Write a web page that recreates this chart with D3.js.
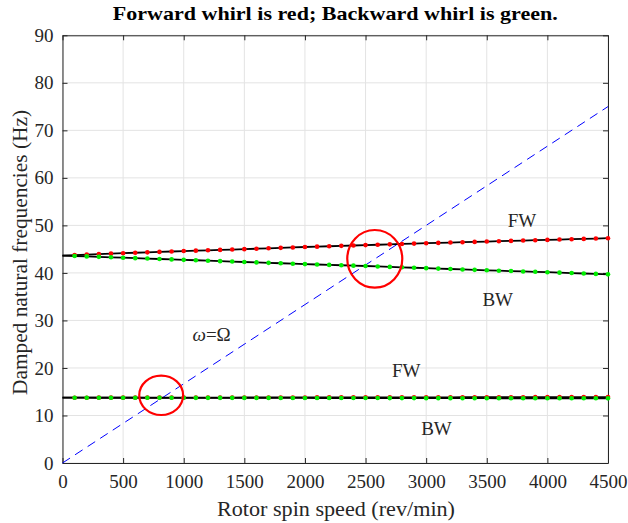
<!DOCTYPE html>
<html>
<head>
<meta charset="utf-8">
<script src="https://cdn.jsdelivr.net/npm/d3@7"></script>
<style>
  html, body { margin: 0; padding: 0; background: #fff; }
  svg { display: block; }
  text { font-family: "Liberation Serif", "Times New Roman", serif; }
</style>
</head>
<body>
<svg id="chart" width="628" height="523"></svg>
<script>
// ---------------- data ----------------
const speeds = [0,100,200,300,400,500,600,700,800,900,1000,1100,1200,1300,1400,1500,1600,1700,1800,1900,2000,
  2100,2200,2300,2400,2500,2600,2700,2800,2900,3000,3100,3200,3300,3400,3500,3600,3700,3800,3900,4000,
  4100,4200,4300,4400,4500];

const fwUpper = [43.65,43.75,43.85,43.95,44.05,44.15,44.24,44.33,44.42,44.51,44.6,44.68,44.76,44.84,44.92,45.0,
  45.09,45.18,45.27,45.36,45.45,45.53,45.61,45.69,45.77,45.85,45.93,46.01,46.09,46.17,46.25,46.32,46.39,46.46,
  46.53,46.6,46.67,46.74,46.81,46.88,46.95,47.02,47.09,47.16,47.23,47.3];

const bwUpper = [43.65,43.56,43.47,43.38,43.29,43.2,43.11,43.02,42.93,42.84,42.75,42.66,42.57,42.48,42.39,42.3,
  42.21,42.12,42.03,41.94,41.85,41.77,41.69,41.61,41.53,41.45,41.36,41.27,41.18,41.09,41.0,40.91,40.82,40.73,
  40.64,40.55,40.47,40.39,40.31,40.23,40.15,40.06,39.97,39.88,39.79,39.7];

const fwLower = [13.74,13.74,13.74,13.75,13.75,13.75,13.75,13.76,13.76,13.76,13.76,13.77,13.77,13.77,
  13.77,13.78,13.78,13.78,13.79,13.79,13.79,13.80,13.80,13.80,13.81,13.81,13.81,13.82,13.82,13.82,
  13.83,13.83,13.83,13.84,13.84,13.84,13.85,13.85,13.85,13.86,13.86,13.86,13.87,13.87,13.87,13.88];

const bwLower = [13.74,13.74,13.74,13.73,13.73,13.73,13.73,13.72,13.72,13.72,13.72,13.71,13.71,13.71,
  13.71,13.70,13.70,13.70,13.69,13.69,13.69,13.68,13.68,13.68,13.67,13.67,13.67,13.66,13.66,13.66,
  13.65,13.65,13.65,13.64,13.64,13.64,13.63,13.63,13.63,13.62,13.62,13.62,13.61,13.61,13.61,13.60];

// synchronous line omega = Omega (Hz = rpm/60)
const syncSpeeds = [0, 4500];
const syncFreqs = [0, 75];

const xTicks = [0,500,1000,1500,2000,2500,3000,3500,4000,4500];
const yTicks = [0,10,20,30,40,50,60,70,80,90];

const titleText = "Forward whirl is red; Backward whirl is green.";
const xLabelText = "Rotor spin speed (rev/min)";
const yLabelText = "Damped natural frequencies (Hz)";

// annotations (data coordinates)
const labelTexts = ["FW", "BW", "FW", "BW"];
const labelSpeeds = [3790, 3590, 2835, 3085];
const labelFreqs = [50.6, 33.9, 19.0, 6.8];

const circleSpeeds = [814, 2576];
const circleFreqs = [14.25, 42.97];
const circleRadSpeed = [181, 227];
const circleRadFreq = [4.15, 6.06];

// ---------------- drawing ----------------
const svg = d3.select("#chart");
const mLeft = 62.5, mRight = 608, mTop = 35.3, mBottom = 463;

const x = d3.scaleLinear().domain([0, 4500]).range([mLeft, mRight]);
const y = d3.scaleLinear().domain([0, 90]).range([mBottom, mTop]);

// grid
const grid = svg.append("g");
grid.selectAll("line.gx").data(xTicks).enter().append("line")
  .attr("x1", d => x(d)).attr("x2", d => x(d)).attr("y1", mTop).attr("y2", mBottom)
  .attr("stroke", "#e3e3e3").attr("stroke-width", 1);
grid.selectAll("line.gy").data(yTicks).enter().append("line")
  .attr("x1", mLeft).attr("x2", mRight).attr("y1", d => y(d)).attr("y2", d => y(d))
  .attr("stroke", "#e3e3e3").attr("stroke-width", 1);

// axes
const tickLen = 5;
const axB = svg.append("g").attr("transform", `translate(0,${mBottom})`)
  .call(d3.axisBottom(x).tickValues(xTicks).tickSizeInner(-tickLen).tickSizeOuter(0).tickPadding(12).tickFormat(d3.format("d")));
const axL = svg.append("g").attr("transform", `translate(${mLeft},0)`)
  .call(d3.axisLeft(y).tickValues(yTicks).tickSizeInner(-tickLen).tickSizeOuter(0).tickPadding(9).tickFormat(d3.format("d")));
const axT = svg.append("g").attr("transform", `translate(0,${mTop})`)
  .call(d3.axisTop(x).tickValues(xTicks).tickSizeInner(-tickLen).tickSizeOuter(0).tickFormat(""));
const axR = svg.append("g").attr("transform", `translate(${mRight},0)`)
  .call(d3.axisRight(y).tickValues(yTicks).tickSizeInner(-tickLen).tickSizeOuter(0).tickFormat(""));
[axB, axL, axT, axR].forEach(a => {
  a.attr("font-family", null);
  a.select(".domain").attr("stroke", "#262626").attr("stroke-width", 1);
  a.selectAll(".tick line").attr("stroke", "#262626");
  a.selectAll("text").attr("font-size", 19).attr("fill", "#262626");
});

// synchronous dashed line
const sync = syncSpeeds.map((s, i) => [s, syncFreqs[i]]);
svg.append("path").datum(sync)
  .attr("d", d3.line().x(d => x(d[0])).y(d => y(d[1])))
  .attr("fill", "none").attr("stroke", "#0000ff").attr("stroke-width", 1)
  .attr("stroke-dasharray", "9,6");

// black curves
const line = d3.line().x((d, i) => x(speeds[i])).y(d => y(d));
[fwUpper, bwUpper, fwLower, bwLower].forEach(series => {
  svg.append("path").datum(series).attr("d", line)
    .attr("fill", "none").attr("stroke", "#000").attr("stroke-width", 1.8);
});

// markers
function markers(series, color) {
  svg.append("g").selectAll("circle")
    .data(series.slice(1)).enter().append("circle")
    .attr("cx", (d, i) => x(speeds[i + 1])).attr("cy", d => y(d))
    .attr("r", 2.3).attr("fill", color);
}
markers(fwUpper, "#ff0000");
markers(fwLower, "#ff0000");
markers(bwUpper, "#00ee00");
markers(bwLower, "#00ee00");

// red circles
circleSpeeds.forEach((s, i) => {
  svg.append("ellipse")
    .attr("cx", x(s)).attr("cy", y(circleFreqs[i]))
    .attr("rx", x(circleRadSpeed[i]) - x(0))
    .attr("ry", y(0) - y(circleRadFreq[i]))
    .attr("fill", "none").attr("stroke", "#ff0000").attr("stroke-width", 2.2);
});

// labels FW / BW
labelTexts.forEach((t, i) => {
  svg.append("text").attr("x", x(labelSpeeds[i])).attr("y", y(labelFreqs[i]))
    .attr("text-anchor", "middle").attr("dominant-baseline", "middle")
    .attr("font-size", 19).attr("fill", "#262626").text(t);
});

// omega = Omega
const om = svg.append("text").attr("x", x(1230)).attr("y", y(26.6))
  .attr("text-anchor", "middle").attr("dominant-baseline", "middle")
  .attr("font-size", 19).attr("fill", "#262626");
om.append("tspan").attr("font-style", "italic").text("ω");
om.append("tspan").text("=Ω");

// title
svg.append("text").attr("x", (mLeft + mRight) / 2).attr("y", 20)
  .attr("text-anchor", "middle").attr("font-weight", "bold").attr("font-size", 19)
  .attr("fill", "#000")
  .attr("textLength", 445).attr("lengthAdjust", "spacingAndGlyphs")
  .text(titleText);

// x label
svg.append("text").attr("x", 336).attr("y", 516)
  .attr("text-anchor", "middle").attr("font-size", 21).attr("fill", "#262626")
  .attr("textLength", 238).attr("lengthAdjust", "spacingAndGlyphs")
  .text(xLabelText);

// y label
svg.append("text").attr("transform", `translate(27,252.5) rotate(-90)`)
  .attr("text-anchor", "middle").attr("font-size", 21).attr("fill", "#262626")
  .attr("textLength", 285).attr("lengthAdjust", "spacingAndGlyphs")
  .text(yLabelText);
</script>
</body>
</html>
